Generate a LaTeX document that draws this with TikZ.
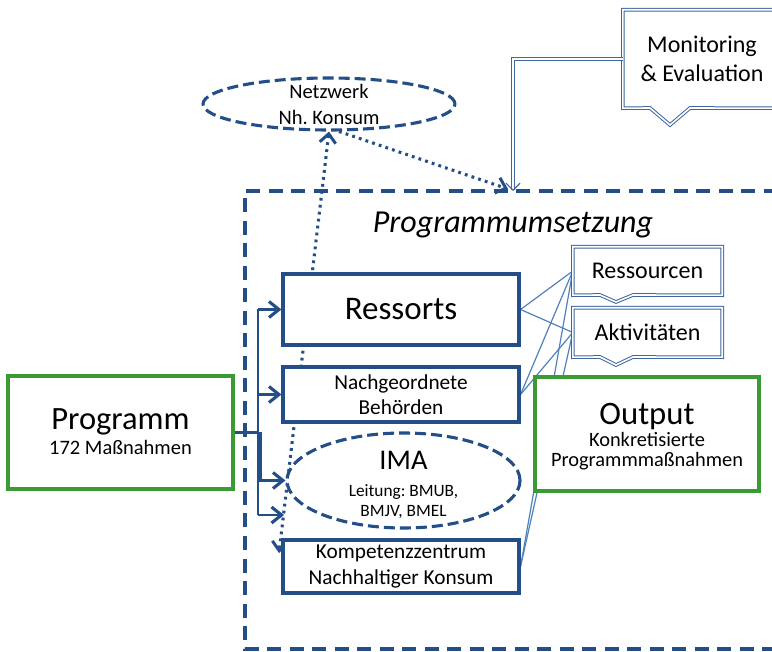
\documentclass[tikz,border=0pt]{standalone}
\usepackage{fontspec}
\setmainfont{Carlito}
\frenchspacing
\usetikzlibrary{shapes.geometric,arrows.meta,calc,backgrounds}
\definecolor{dblue}{RGB}{36,78,136}
\definecolor{lblue}{RGB}{79,129,189}
\definecolor{cblue}{RGB}{62,102,160}
\definecolor{ggreen}{RGB}{58,155,52}
\begin{document}
\begin{tikzpicture}[x=1pt,y=-1pt,
  box/.style={draw=dblue, line width=3.1pt, fill=white, inner sep=0pt, align=center},
  gbox/.style={draw=ggreen, line width=3.3pt, fill=white, inner sep=0pt, align=center},
  dell/.style={ellipse, draw=dblue, line width=3.1pt, dash pattern=on 11pt off 5pt, fill=white, inner sep=0pt},
  lbl/.style={inner sep=0pt, align=center},
  arr/.style={draw=dblue, line width=2.9pt, -{Straight Barb[length=10pt,width=16pt,line width=3.1pt]}},
  dots/.style={draw=dblue, line width=3.1pt, dash pattern=on 2.8pt off 4.2pt, >={Straight Barb[length=9pt,width=16pt,line width=3pt]}},
  thinl/.style={draw=lblue, line width=1.2pt},
  call/.style={draw=cblue, line width=1pt, double=white, double distance=1.6pt}
]
\clip (0,0) rectangle (772,652);

% title
\node[lbl, font=\itshape\fontsize{32}{35}\selectfont] (title) at (513,225) {Programmumsetzung};

% main boxes
\node[box, minimum width=236pt, minimum height=71pt, font=\fontsize{33}{36}\selectfont] (ressorts) at (401,309.5) {Ressorts};
\node[box, minimum width=236pt, minimum height=55pt, font=\fontsize{21.3}{25}\selectfont] (nach) at (401,394.5) {Nachgeordnete\\Behörden};
\node[dell, minimum width=233pt, minimum height=95pt,
  label={[lbl, yshift=-4pt, font=\fontsize{17.3}{19.5}\selectfont]center:{{\fontsize{28.5}{30}\selectfont IMA}\\[8pt]Leitung: BMUB,\\BMJV, BMEL}}] (ima) at (403.5,480.5) {};
\node[box, minimum width=236pt, minimum height=53pt, font=\fontsize{21.3}{26}\selectfont] (komp) at (401,566.5) {Kompetenzzentrum\\Nachhaltiger Konsum};
\node[gbox, minimum width=225pt, minimum height=113pt,
  label={[lbl, yshift=1pt, font=\fontsize{20.5}{22}\selectfont]center:{{\fontsize{32.5}{34}\selectfont Programm}\\[3pt]172 Maßnahmen}}] (prog) at (120.5,432.5) {};
\node[gbox, minimum width=224pt, minimum height=114pt,
  label={[lbl, yshift=-3pt, font=\fontsize{20.4}{20}\selectfont]center:{{\fontsize{32.7}{34}\selectfont Output}\\[2pt]Konkretisierte\\Programmmaßnahmen}}] (out) at (647,434) {};
\node[dell, minimum width=252pt, minimum height=52pt,
  label={[lbl, font=\fontsize{20.5}{26}\selectfont]center:{Netzwerk\\Nh. Konsum}}] (netz) at (329,104) {};

% callouts
\node[lbl, minimum width=158pt, minimum height=98pt, font=\fontsize{24}{29}\selectfont] (mon) at (702,59) {Monitoring\\\&~Evaluation};
\draw[call] (mon.north west) -- (mon.north east) -- (mon.south east) -- (690,108) -- (670,125) -- (650,108) -- (mon.south west) -- cycle;
\node[lbl, minimum width=149pt, minimum height=48pt, font=\fontsize{24}{29}\selectfont] (res) at (647.5,271) {Ressourcen};
\draw[call] (res.north west) -- (res.north east) -- (res.south east) -- (633,295) -- (616,302) -- (600,295) -- (res.south west) -- cycle;
\node[lbl, minimum width=149pt, minimum height=49pt, font=\fontsize{24}{29}\selectfont] (akt) at (647.5,332.5) {Aktivitäten};
\draw[call] (akt.north west) -- (akt.north east) -- (akt.south east) -- (633,357) -- (616,365) -- (600,357) -- (akt.south west) -- cycle;

% free ends
\coordinate (trunk) at (258,432.5);
\coordinate (lastarr) at (284,515);
\coordinate (kompdot) at (279,553);
\coordinate (frametip) at (508,189);
\coordinate (montip) at (513,191);

\begin{scope}[on background layer]
  % dashed frame
  \draw[draw=dblue, line width=3.1pt, dash pattern=on 14pt off 8.5pt] (800,191) -- (245,191) -- (245,649) -- (800,649);
  % dotted links
  \draw[dots, <->] (netz.south) -- (kompdot);
  \draw[dots, ->] (netz.-70) -- (frametip);
  % thin lines
  \foreach \s in {ressorts, nach, komp}
    \foreach \t in {res, akt}
      \draw[thinl] (\s.east) -- (\t.west);
\end{scope}

% monitoring connector
\draw[call, -{Straight Barb[length=7pt,width=14pt,line width=1.2pt]}] (mon.west) -| (montip);

% programm connectors
\draw[draw=dblue, line width=2.9pt] (prog.east) -- (trunk);
\draw[draw=dblue, line width=2.9pt] (258,309.5) -- (258,515);
\draw[draw=dblue, line width=3.4pt] (260.5,432.5) -- (260.5,480.5);
\draw[arr] (trunk |- ressorts.west) -- (ressorts.west);
\draw[arr] (trunk |- nach.west) -- (nach.west);
\draw[arr] (trunk |- ima.west) -- (ima.west);
\draw[arr] (trunk |- lastarr) -- (lastarr);
\end{tikzpicture}
\end{document}
